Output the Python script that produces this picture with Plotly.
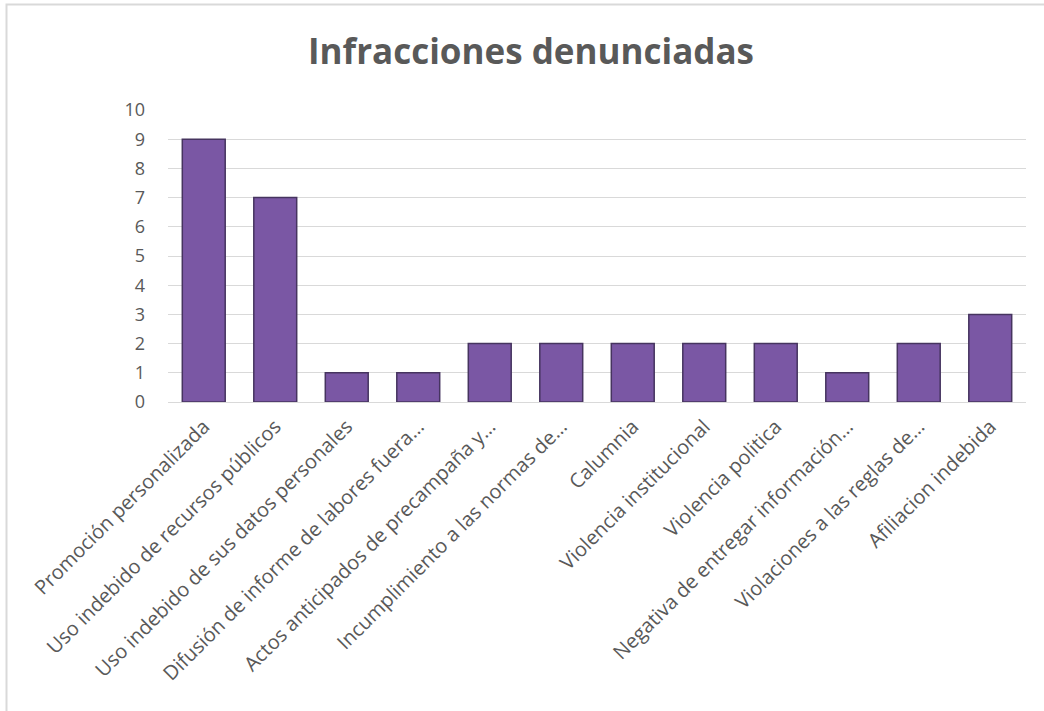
import plotly.graph_objects as go

categories = [
    "Promoción personalizada",
    "Uso indebido de recursos públicos",
    "Uso indebido de sus datos personales",
    "Difusión de informe de labores fuera…",
    "Actos anticipados de precampaña y…",
    "Incumplimiento a las normas de…",
    "Calumnia",
    "Violencia institucional",
    "Violencia politica",
    "Negativa de entregar información…",
    "Violaciones a las reglas de…",
    "Afiliacion indebida",
]
values = [9, 7, 1, 1, 2, 2, 2, 2, 2, 1, 2, 3]
y_ticks = list(range(0, 11))

W, H = 1044, 711
L, R, T, B = 168, 18, 110, 309
pw, ph = W - L - R, H - T - B


def px_x(p):
    return (p - L) / pw


def px_y(p):
    return (H - B - p) / ph


fig = go.Figure()
fig.add_trace(go.Bar(
    x=categories, y=values,
    marker=dict(color="#7A57A4", line=dict(color="#46345F", width=1.5)),
    width=0.6,
    hoverinfo="x+y",
))

font = "Open Sans, Segoe UI, sans-serif"
fig.update_layout(
    width=W, height=H,
    margin=dict(l=L, r=R, t=T, b=B),
    paper_bgcolor="white", plot_bgcolor="white",
    showlegend=False,
    title=dict(text="<b>Infracciones denunciadas</b>", x=531 / W, xanchor="center",
               y=1 - 52 / H, yanchor="middle",
               font=dict(family=font, size=35, color="#595959")),
    font=dict(family=font, color="#595959"),
)
fig.update_xaxes(
    tickangle=-45, tickfont=dict(size=20, color="#595959"),
    showgrid=False, showline=True, linecolor="#d9d9d9", linewidth=1,
    ticks="", range=[-0.5, len(categories) - 0.5], ticklabelstandoff=4,
)
fig.update_yaxes(
    range=[0, 10], tickvals=y_ticks, tickfont=dict(size=18, color="#595959"),
    showgrid=True, gridcolor="#d9d9d9", gridwidth=1,
    zeroline=False, showline=False, ticks="", ticklabelstandoff=22,
)
# chart border
fig.add_shape(type="rect", xref="paper", yref="paper",
              x0=px_x(6.5), x1=px_x(1060), y0=px_y(725), y1=px_y(4.5),
              line=dict(color="#d9d9d9", width=2), layer="below")

fig.write_html("out.html", config={"displayModeBar": False},
               post_script="document.body.style.margin='0px';document.body.style.overflow='hidden';")
